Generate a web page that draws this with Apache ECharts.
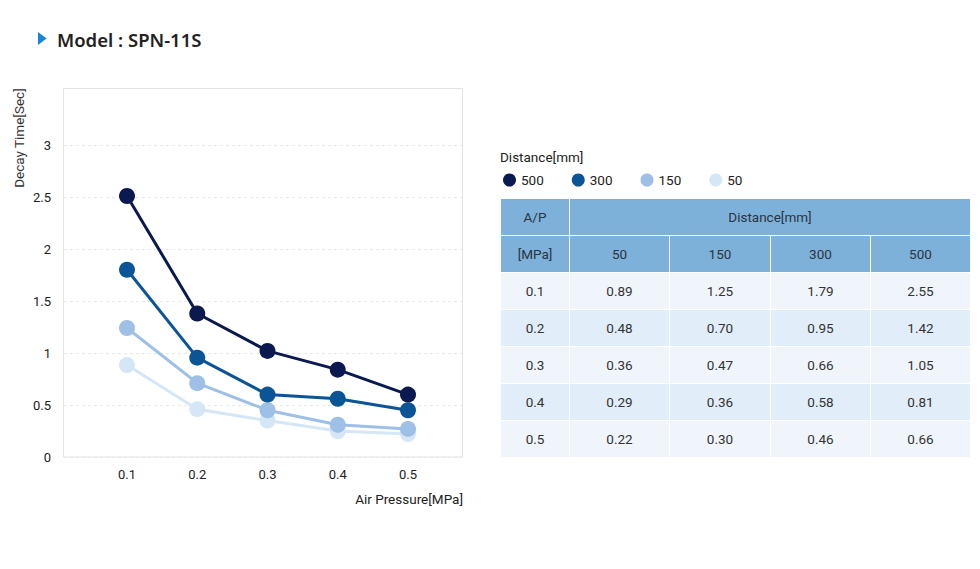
<!DOCTYPE html>
<html>
<head>
<meta charset="utf-8">
<script src="https://cdn.jsdelivr.net/npm/echarts@6/dist/echarts.min.js"></script>
<style>
  html, body { margin: 0; padding: 0; background: #fff; }
  #wrap { position: relative; width: 980px; height: 569px; overflow: hidden; }
  #chart { position: absolute; left: 0; top: 0; width: 980px; height: 569px; }
  #tbl { position: absolute; left: 500px; top: 198px; border-collapse: collapse; table-layout: fixed;
         font-family: Roboto, "Liberation Sans", Arial, sans-serif; font-size: 13.5px; color: #333; }
  #tbl td { border: 1px solid #fff; text-align: center; height: 36px; padding: 0; }
  #tbl tr.h td { background: #7eb1da; color: #2a3440; }
  #tbl tr.l td { background: #eff5fb; }
  #tbl tr.d td { background: #e1edf8; }
</style>
</head>
<body>
<div id="wrap">
  <div id="chart"></div>
  <table id="tbl"></table>
</div>
<script>
// ---- data ----
const pressures = ['0.1', '0.2', '0.3', '0.4', '0.5'];
const distances = ['500', '300', '150', '50'];
// values as plotted in the chart
const plot500 = [2.51, 1.38, 1.02, 0.84, 0.60];
const plot300 = [1.80, 0.955, 0.60, 0.56, 0.45];
const plot150 = [1.24, 0.71, 0.45, 0.31, 0.27];
const plot50  = [0.885, 0.46, 0.35, 0.25, 0.22];
// values in the table
const tableCols = ['50', '150', '300', '500'];
const tbl50  = ['0.89', '0.48', '0.36', '0.29', '0.22'];
const tbl150 = ['1.25', '0.70', '0.47', '0.36', '0.30'];
const tbl300 = ['1.79', '0.95', '0.66', '0.58', '0.46'];
const tbl500 = ['2.55', '1.42', '1.05', '0.81', '0.66'];
const yTicks = [0, 0.5, 1, 1.5, 2, 2.5, 3];

// ---- table ----
(function buildTable() {
  const t = document.getElementById('tbl');
  const widths = [69, 100, 101, 100, 100];
  let html = '<colgroup>' + widths.map(w => '<col style="width:' + w + 'px">').join('') + '</colgroup>';
  html += '<tr class="h"><td>A/P</td><td colspan="4">Distance[mm]</td></tr>';
  html += '<tr class="h"><td>[MPa]</td>' + tableCols.map(c => '<td>' + c + '</td>').join('') + '</tr>';
  const cols = [tbl50, tbl150, tbl300, tbl500];
  pressures.forEach((p, i) => {
    html += '<tr class="' + (i % 2 === 0 ? 'l' : 'd') + '"><td>' + p + '</td>' +
      cols.map(c => '<td>' + c[i] + '</td>').join('') + '</tr>';
  });
  t.innerHTML = html;
})();

// ---- chart ----
const colors = { '500': '#0a1a50', '300': '#0b5597', '150': '#9ebfe6', '50': '#d5e6f6' };
const plotData = { '500': plot500, '300': plot300, '150': plot150, '50': plot50 };
const font = 'Roboto, "Liberation Sans", Arial, sans-serif';
const yMin = yTicks[0], yMax = yTicks[yTicks.length - 1], yStep = yTicks[1] - yTicks[0];

const chart = echarts.init(document.getElementById('chart'), null, { renderer: 'svg' });
const drawOrder = ['50', '150', '300', '500'];
chart.setOption({
  animation: false,
  textStyle: { fontFamily: font },
  grid: [
    { left: 127, right: 572, top: 145, bottom: 112, containLabel: false },
    { left: 64, right: 518, top: 145, bottom: 112, containLabel: false }
  ],
  legend: {
    data: distances,
    left: 498, top: 168,
    icon: 'circle', itemWidth: 13, itemHeight: 13, itemGap: 28,
    textStyle: { fontSize: 13.5, color: '#222', fontFamily: font }
  },
  xAxis: [
    {
      type: 'category', data: pressures, boundaryGap: false, gridIndex: 0,
      axisLine: { show: false }, axisTick: { show: false },
      axisLabel: { margin: 11, fontSize: 13, color: '#222' },
      splitLine: { show: false }
    },
    {
      type: 'category', data: pressures, gridIndex: 1, show: false
    }
  ],
  yAxis: [
    {
      type: 'value', min: yMin, max: yMax, interval: yStep, gridIndex: 0,
      axisLine: { show: false }, axisTick: { show: false },
      axisLabel: { margin: 76, fontSize: 13, color: '#222' },
      splitLine: { show: false }
    },
    {
      type: 'value', min: yMin, max: yMax, interval: yStep, gridIndex: 1,
      axisLine: { show: false }, axisTick: { show: false }, axisLabel: { show: false },
      splitLine: { show: true, lineStyle: { type: [3, 3], color: '#e3e9ef', width: 1 } }
    }
  ],
  series: drawOrder.map(d => ({
    name: d, type: 'line', data: plotData[d], xAxisIndex: 0, yAxisIndex: 0,
    symbol: 'circle', symbolSize: 16,
    lineStyle: { width: 3, color: colors[d] },
    itemStyle: { color: colors[d] },
    emphasis: { disabled: true }
  })),
  graphic: [
    { type: 'rect', z: -1, silent: true, shape: { x: 63.5, y: 88.5, width: 399, height: 368.5 },
      style: { fill: 'none', stroke: '#e3e3e3', lineWidth: 1 } },
    { type: 'polygon', shape: { points: [[38, 32], [46.5, 38.5], [38, 45]] }, style: { fill: '#1784d6' } },
    { type: 'text', x: 57, y: 39, style: { text: 'Model : SPN-11S', fontSize: 18.5, fontWeight: 600,
      fill: '#222', fontFamily: '"Noto Sans", Roboto, sans-serif', verticalAlign: 'middle' } },
    { type: 'text', x: 19, y: 138, rotation: Math.PI / 2,
      style: { text: 'Decay Time[Sec]', fontSize: 13.5, fill: '#333', align: 'center', verticalAlign: 'middle',
      fontFamily: font } },
    { type: 'text', x: 463, y: 499,
      style: { text: 'Air Pressure[MPa]', fontSize: 13.5, fill: '#222', align: 'right', verticalAlign: 'middle',
      fontFamily: font } },
    { type: 'text', x: 500, y: 157,
      style: { text: 'Distance[mm]', fontSize: 13.5, fill: '#222', align: 'left', verticalAlign: 'middle',
      fontFamily: font } }
  ]
});
</script>
</body>
</html>
